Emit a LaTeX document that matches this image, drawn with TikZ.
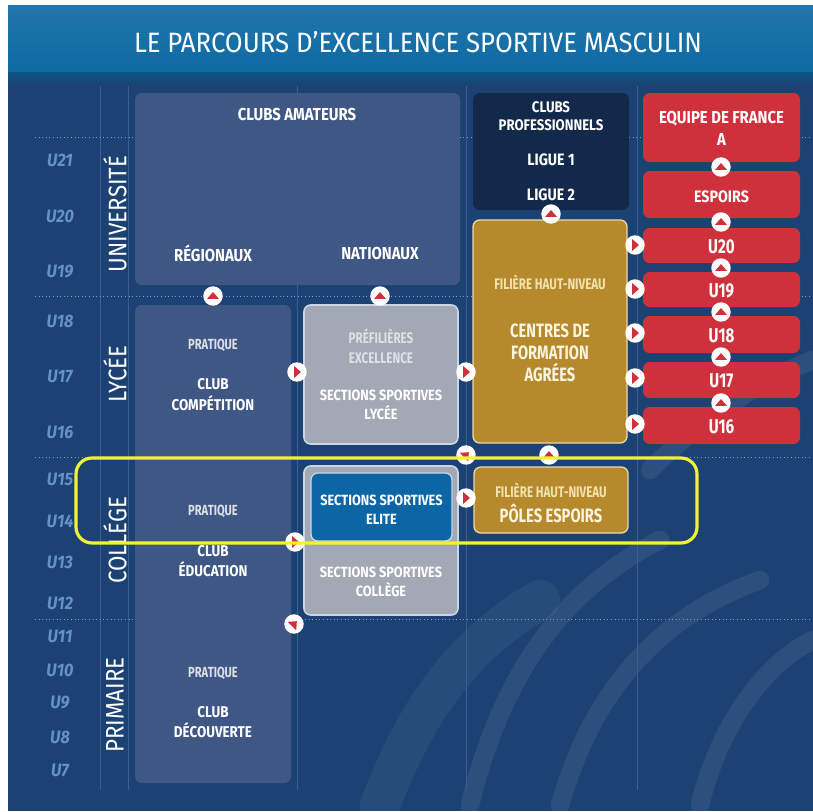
\documentclass[tikz,border=0pt]{standalone}
\usepackage{fontspec}
\setmainfont{Fira Sans}[FakeStretch=0.76]
\newfontfamily\wide{Fira Sans}[FakeStretch=0.86]
\newfontfamily\titlefont{Fira Sans}[FakeStretch=0.92]
\newfontfamily\stagefont{Fira Sans}[FakeStretch=0.88]
\newfontfamily\agefont{Fira Sans}[FakeStretch=0.9]
\definecolor{navy}{HTML}{1C4274}
\definecolor{titlebl}{HTML}{0E6AA3}
\definecolor{slate}{HTML}{3F5784}
\definecolor{probox}{HTML}{13294B}
\definecolor{gold}{HTML}{B5892C}
\definecolor{goldline}{HTML}{E9D9AE}
\definecolor{goldtext}{HTML}{F2E2B0}
\definecolor{creamt}{HTML}{FAF3DE}
\definecolor{greybox}{HTML}{A2A9B5}
\definecolor{greyline}{HTML}{C9D6E8}
\definecolor{greytext}{HTML}{DDE1E7}
\definecolor{elitebl}{HTML}{0C66A6}
\definecolor{redc}{HTML}{CF313C}
\definecolor{agec}{HTML}{6690C6}
\definecolor{vline}{HTML}{3A5F92}
\definecolor{dotc}{HTML}{7F9AC2}
\definecolor{hilite}{HTML}{F2F230}
\tikzset{
  sz/.style 2 args={minimum width=#1*0.75pt, minimum height=#2*0.75pt, inner sep=0pt},
  box/.style={rounded corners=5pt},
  slatebox/.style={box, fill=slate},
  probx/.style={box, fill=probox},
  goldbox/.style={box, fill=gold, draw=goldline, line width=1pt},
  greybx/.style={box, fill=greybox, draw=greyline, line width=1.2pt},
  elitebx/.style={box, fill=elitebl, draw=greyline, line width=1pt},
  redbox/.style={box, fill=redc},
  lbl/.style={text=white, align=center, font=\bfseries\fontsize{11}{13}\selectfont, inner sep=0pt},
  lblw/.style 2 args={lbl, font=\wide\bfseries\fontsize{#1}{#2}\selectfont},
  lblbig/.style={lbl, text=creamt, font=\bfseries\fontsize{14.5}{16.5}\selectfont},
  lblred/.style={lbl, font=\bfseries\fontsize{15}{17}\selectfont},
  greyt/.style={lbl, text=greytext},
  goldt/.style={lbl, text=goldtext, font=\bfseries\fontsize{11.5}{13}\selectfont},
  age/.style={text=agec, font=\agefont\bfseries\itshape\fontsize{13.5}{15}\selectfont, inner sep=0pt},
  stage/.style={text=white, rotate=90, font=\stagefont\fontsize{19}{20}\selectfont, inner sep=0pt},
  badge/.style={circle, fill=white, minimum size=14.6pt, inner sep=0pt,
    path picture={\fill[redc] ([shift={(#1:3pt)}]path picture bounding box.center)
      -- ([shift={(#1+116:5pt)}]path picture bounding box.center)
      -- ([shift={(#1-116:5pt)}]path picture bounding box.center) -- cycle;}},
  vsep/.style={draw=vline, line width=0.6pt},
  hdot/.style={draw=dotc, line width=0.7pt, dotted},
  swoosh/.style={draw=white, draw opacity=0.07, line width=14pt, line cap=round},
}
\begin{document}
\begin{tikzpicture}[x=0.75pt, y=-0.75pt]
\useasboundingbox (0,0) rectangle (813,811);
\fill[white] (0,0) rectangle (813,811);
% background panels
\fill[navy] (8,76) rectangle (813,811);
\shade[top color=titlebl!92!white, bottom color=titlebl] (8,5) rectangle (813,72);
\shade[top color=titlebl!80!black, bottom color=navy] (8,72) rectangle (813,86);
\node[text=white, font=\titlefont\fontsize{21}{23}\selectfont, inner sep=0pt] (title) at (418,42) {LE PARCOURS D’EXCELLENCE SPORTIVE MASCULIN};
% decorative swooshes
\draw[swoosh] (470,805) .. controls (500,680) and (560,590) .. (660,540);
\draw[swoosh] (560,805) .. controls (590,700) and (650,620) .. (760,580);
\draw[swoosh] (650,470) .. controls (700,420) and (760,380) .. (813,360);
\draw[swoosh] (700,805) .. controls (720,720) and (770,660) .. (813,640);
\draw[swoosh, draw opacity=0.05, line width=30pt] (380,805) .. controls (420,700) and (470,640) .. (540,600);
% separators
\foreach \x in {100,128,297,466,637} \draw[vsep] (\x,86) -- (\x,790);
\foreach \y in {137,296,457,619} \draw[hdot] (35,\y) -- (813,\y);
% age labels
\foreach \t/\y in {U21/160,U20/216,U19/272,U18/321,U17/376,U16/432,U15/479,U14/521,U13/562,U12/603,U11/636,U10/670,U9/703,U8/737,U7/770}
  \node[age] (age\t) at (60,\y) {\t};
% stage labels
\node[stage] (univ) at (115,214) {UNIVERSITÉ};
\node[stage] (lycee) at (115,374) {LYCÉE};
\node[stage] (college) at (115,540) {COLLÉGE};
\node[stage] (primaire) at (115,705) {PRIMAIRE};
% amateurs
\node[slatebox, sz={325}{192}] (amateurs) at (297.5,189) {};
\node[lblw={13}{15}] (tAm) at (297,114) {CLUBS AMATEURS};
\node[lblw={13}{15}] (tReg) at (213,253) {RÉGIONAUX};
\node[lblw={13}{15}] (tNat) at (380,253) {NATIONAUX};
\node[slatebox, sz={156}{478}] (leftcol) at (213,544) {};
\node[greyt] (tP1) at (213,345) {PRATIQUE};
\node[lblw={11.7}{15.5}] (tC1) at (213,394.5) {CLUB\\COMPÉTITION};
\node[greyt] (tP2) at (213,511) {PRATIQUE};
\node[lblw={11.7}{15}] (tC2) at (213,561.5) {CLUB\\ÉDUCATION};
\node[greyt] (tP3) at (213,673) {PRATIQUE};
\node[lblw={11.7}{15}] (tC3) at (213,722.5) {CLUB\\DÉCOUVERTE};
% professional
\node[probx, sz={156}{117}] (pro) at (551,151.5) {};
\node[lblw={11.5}{13.5}] (tPro) at (551,116) {CLUBS\\PROFESSIONNELS};
\node[lblw={12.4}{14}] (tL1) at (551,160) {LIGUE 1};
\node[lblw={12.4}{14}] (tL2) at (551,195) {LIGUE 2};
\node[goldbox, sz={154}{223}] (cfa) at (550,331.5) {};
\node[goldt] (tF1) at (550,282) {FILIÈRE HAUT-NIVEAU};
\node[lblbig] (tCfa) at (550,352.5) {CENTRES DE\\FORMATION\\AGRÉES};
\node[goldbox, sz={154}{66}] (poles) at (551,500) {};
\node[goldt] (tF2) at (551,490) {FILIÈRE HAUT-NIVEAU};
\node[lblbig] (tPol) at (551,513) {PÔLES ESPOIRS};
% grey sections
\node[greybx, sz={154}{139}] (prefil) at (381,374.5) {};
\node[greyt, font=\bfseries\fontsize{11.5}{15}\selectfont] (tPre) at (381,346) {PRÉFILIÈRES\\EXCELLENCE};
\node[lblw={11.1}{14.3}] (tSSL) at (381,404.5) {SECTIONS SPORTIVES\\LYCÉE};
\node[greybx, sz={154}{149}] (sscol) at (381,540.5) {};
\node[elitebx, sz={141}{68}] (elite) at (381.5,507) {};
\node[lblw={11.1}{14.3}] (tEl) at (381.5,509.5) {SECTIONS SPORTIVES\\ELITE};
\node[lblw={11.1}{14.3}] (tSSC) at (381,581.5) {SECTIONS SPORTIVES\\COLLÈGE};
% red column
\node[redbox, sz={157}{69}] (edf) at (721.5,127.5) {};
\node[lblw={13}{17}] (tEdf) at (721.5,128.5) {EQUIPE DE FRANCE\\A};
\node[redbox, sz={157}{47}] (esp) at (721.5,194.5) {};
\node[lblw={12.4}{14}] (tEsp) at (721.5,197) {ESPOIRS};
\foreach \n/\y/\h in {U20/245.5/35,U19/289.5/35,U18/334.5/37,U17/380/36,U16/425.5/37}{
  \node[redbox, sz={157}{\h}] (r\n) at (721.5,\y) {};
  \node[lblred] (t\n) at (721.5,\y+1) {\n};
}
% badges (arrows)
\node[badge=90] (b1) at (213,296) {};
\node[badge=90] (b2) at (380,296) {};
\node[badge=90] (b3) at (551,214) {};
\node[badge=90] (b4) at (549,455) {};
\foreach \y [count=\i] in {167,222,268,312,357,403} \node[badge=90] (bu\i) at (721,\y) {};
\node[badge=0] (b5) at (297,372) {};
\node[badge=0] (b6) at (466,372) {};
\foreach \y [count=\i] in {245,289,333,378,424} \node[badge=0] (br\i) at (635,\y) {};
\node[badge=0] (b7) at (466,498) {};
\node[badge=0] (b8) at (295,542) {};
\node[badge=45] (b9) at (294,624) {};
\node[badge=45] (b10) at (466,455) {};
% highlight
\draw[hilite, line width=2.4pt, rounded corners=12pt] (76,458) rectangle (697,543);
\end{tikzpicture}
\end{document}
